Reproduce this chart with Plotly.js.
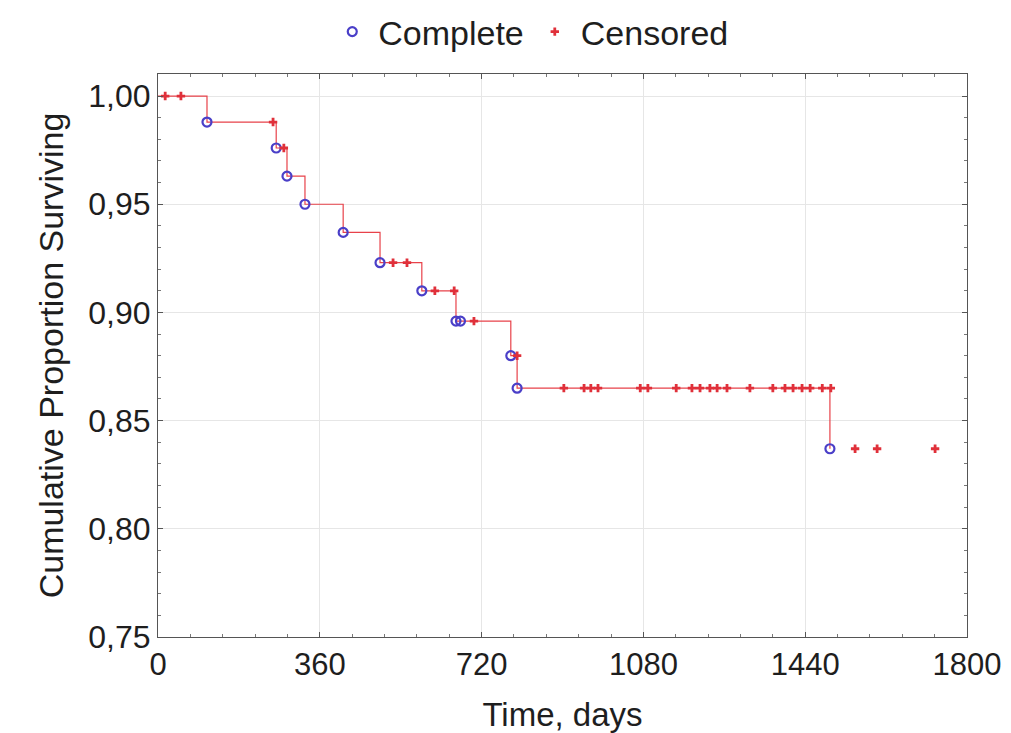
<!DOCTYPE html>
<html>
<head>
<meta charset="utf-8">
<script src="https://cdn.plot.ly/plotly-3.0.1.min.js"></script>
<style>html,body{margin:0;padding:0;background:#fff;}#chart{width:1011px;height:733px;}</style>
</head>
<body>
<div id="chart"></div>
<script>
// Kaplan-Meier step curve (time in days, cumulative proportion surviving)
var stepTimes = [0, 109, 263, 287, 327, 412, 494, 587, 663, 785, 799, 1495, 1729];
var stepSurv  = [1.000, 0.988, 0.976, 0.963, 0.950, 0.937, 0.923, 0.910, 0.896, 0.880, 0.865, 0.837, 0.837];

// Complete (event) observations
var completeTimes = [109, 263, 287, 327, 412, 494, 587, 663, 673, 785, 799, 1495];
var completeSurv  = [0.988, 0.976, 0.963, 0.950, 0.937, 0.923, 0.910, 0.896, 0.896, 0.880, 0.865, 0.837];

// Censored observations
var censoredTimes = [16, 51, 256, 280, 523, 554, 616, 659, 703, 799,
  903, 948, 963, 979, 1073, 1090, 1153, 1188, 1206, 1228, 1244, 1266, 1317,
  1368, 1395, 1413, 1433, 1451, 1478, 1497, 1551, 1600, 1729];
var censoredSurv = [1.000, 1.000, 0.988, 0.976, 0.923, 0.923, 0.910, 0.910, 0.896, 0.880,
  0.865, 0.865, 0.865, 0.865, 0.865, 0.865, 0.865, 0.865, 0.865, 0.865, 0.865, 0.865, 0.865,
  0.865, 0.865, 0.865, 0.865, 0.865, 0.865, 0.865, 0.837, 0.837, 0.837];

var xTicks = [0, 360, 720, 1080, 1440, 1800];
var yTicks = [0.75, 0.80, 0.85, 0.90, 0.95, 1.00];

var lineColor = '#e8424a';
var traces = [
  {x: stepTimes.slice(0, stepTimes.length - 1), y: stepSurv.slice(0, stepSurv.length - 1),
   mode: 'lines', line: {shape: 'hv', color: lineColor, width: 1.2}, showlegend: false, hoverinfo: 'skip'},
  {x: completeTimes, y: completeSurv, mode: 'markers', name: 'Complete',
   marker: {symbol: 'circle-open', color: '#4a3fc8', size: 9, line: {width: 2.2, color: '#4a3fc8'}}},
  {x: censoredTimes, y: censoredSurv, mode: 'markers', name: 'Censored',
   marker: {symbol: 'cross', color: '#e0303a', size: 7}}
];

var fam = 'Liberation Sans, Arial, sans-serif';
var txt = '#1e1e1e';
var layout = {
  width: 1011, height: 733,
  separators: ',.',
  paper_bgcolor: '#fff', plot_bgcolor: '#fff',
  margin: {l: 158, r: 44, t: 74, b: 96},
  font: {family: fam, color: txt},
  showlegend: true,
  legend: {orientation: 'h', xref: 'container', yref: 'container',
    x: 0.524, xanchor: 'center', y: 1 - 32 / 733, yanchor: 'middle',
    font: {size: 34, family: fam, color: txt}, itemwidth: 42, tracegroupgap: 0},
  xaxis: {
    range: [0, 1800], tickvals: xTicks, ticktext: xTicks.map(String),
    showgrid: true, gridcolor: '#e6e6e6', gridwidth: 1, zeroline: false,
    showline: true, linecolor: '#555', linewidth: 1, mirror: 'allticks',
    ticks: 'inside', ticklen: 5, tickcolor: '#555',
    minor: {ticks: 'inside', dtick: 72, tick0: 0, ticklen: 3, tickcolor: '#777', showgrid: false},
    tickfont: {size: 31, family: fam, color: txt},
    title: {text: 'Time, days', font: {size: 33, family: fam, color: txt}, standoff: 22}
  },
  yaxis: {
    range: [0.75, 1.0102], tickvals: yTicks, tickformat: '.2f',
    showgrid: true, gridcolor: '#e6e6e6', gridwidth: 1, zeroline: false,
    showline: true, linecolor: '#555', linewidth: 1, mirror: 'allticks',
    ticks: 'inside', ticklen: 5, tickcolor: '#555',
    minor: {ticks: 'inside', dtick: 0.01, tick0: 0.75, ticklen: 3, tickcolor: '#777', showgrid: false},
    tickfont: {size: 32, family: fam, color: txt},
    title: {text: 'Cumulative Proportion Surviving', font: {size: 34, family: fam, color: txt}, standoff: 14}
  }
};

Plotly.newPlot('chart', traces, layout, {displayModeBar: false, staticPlot: true});
</script>
</body>
</html>
